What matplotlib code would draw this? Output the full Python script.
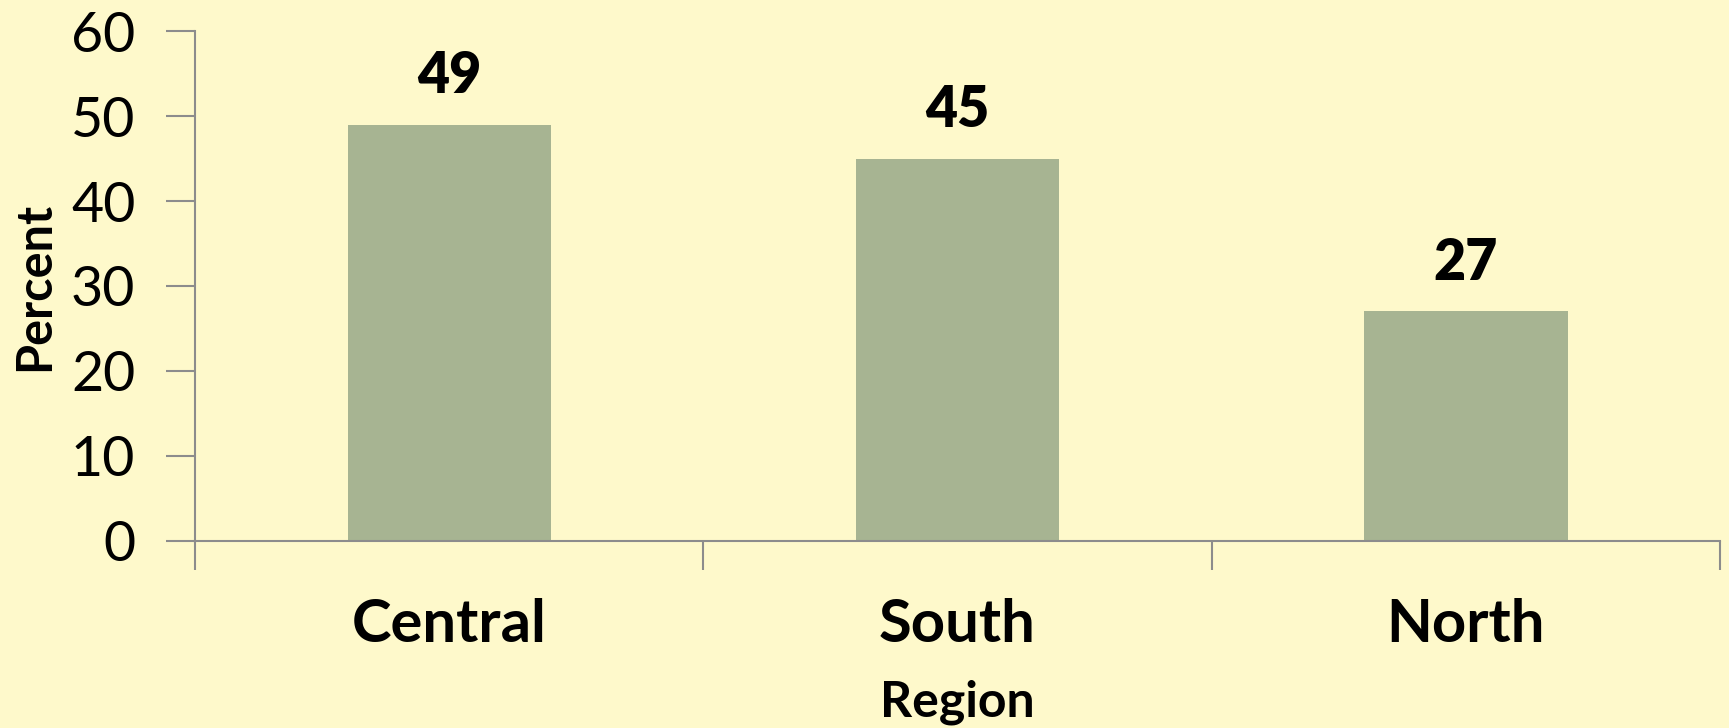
import matplotlib.pyplot as plt

# data
regions = ["Central", "South", "North"]
percent = [49, 45, 27]
y_ticks = [0, 10, 20, 30, 40, 50, 60]

bg = "#fef9cb"
bar_color = "#a7b492"
axis_color = "#8c8c8c"

plt.rcParams["font.family"] = ["Lato", "DejaVu Sans"]

fig = plt.figure(figsize=(17.29, 7.28), dpi=100, facecolor=bg)
ax = fig.add_axes([0.1128, 0.2569, 0.882, 0.7005], facecolor=bg)

x = list(range(len(regions)))
ax.bar(x, percent, width=0.4, color=bar_color, zorder=2)

for xi, v in zip(x, percent):
    ax.text(xi, v + 2.6, str(v), ha="center", va="bottom",
            fontsize=40, fontweight="heavy", color="black")

ax.set_xlim(-0.5, len(regions) - 0.5)
ax.set_ylim(0, 60)
ax.set_yticks(y_ticks)
ax.set_yticklabels([str(t) for t in y_ticks], fontsize=40)

# category ticks sit on the boundaries, labels in the middle
ax.set_xticks([i - 0.5 for i in range(len(regions) + 1)])
ax.set_xticklabels([])
ax.set_xticks(x, minor=True)
ax.set_xticklabels(regions, minor=True, fontsize=43, fontweight="bold")
ax.tick_params(axis="x", which="minor", length=0, pad=41)
ax.tick_params(axis="x", which="major", length=21, width=1.5, color=axis_color)
ax.tick_params(axis="y", length=21, width=1.5, color=axis_color, pad=22)

for s in ["top", "right"]:
    ax.spines[s].set_visible(False)
for s in ["left", "bottom"]:
    ax.spines[s].set_color(axis_color)
    ax.spines[s].set_linewidth(1.5)

ax.set_ylabel("Percent", fontsize=35, fontweight="bold", labelpad=10)
ax.set_xlabel("Region", fontsize=36, fontweight="bold", labelpad=20)

fig.savefig("out.png", dpi=100, facecolor=bg)
